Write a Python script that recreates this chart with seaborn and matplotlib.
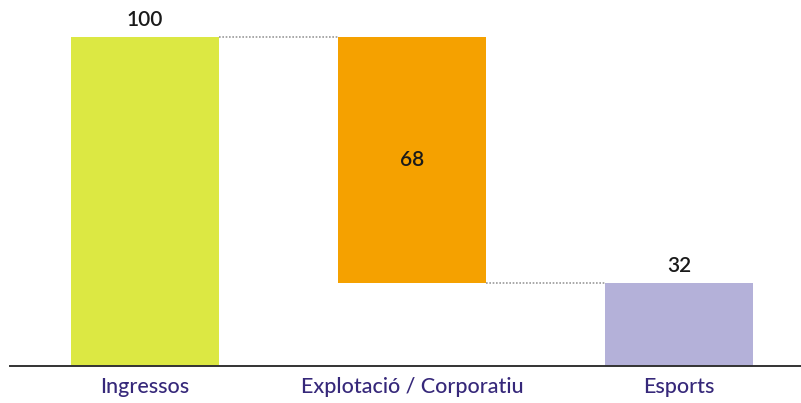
import matplotlib
matplotlib.use("Agg")
import matplotlib.pyplot as plt
import seaborn as sns

# Waterfall data
categories = ["Ingressos", "Explotació / Corporatiu", "Esports"]
values = [100, -68, 32]          # income, cost, result
labels = ["100", "68", "32"]
colors = ["#dce843", "#f5a100", "#b4b1d9"]

# bar bottoms / heights from the running total
bottoms = [0, values[0] + values[1], 0]
heights = [values[0], -values[1], values[2]]
levels = [values[0], values[0] + values[1]]

sns.set_style("white")
plt.rcParams["font.family"] = ["Lato", "DejaVu Sans"]

fig = plt.figure(figsize=(8.01, 4.03), dpi=100)
ax = fig.add_axes([0.0125, 0.0918, 0.9875, 0.9082])

bar_w = 0.554
sns.barplot(x=categories, y=heights, hue=categories, palette=colors,
            legend=False, width=bar_w, saturation=1, ax=ax)

# lift floating bars to their bottoms
for patch, b in zip(ax.patches, bottoms):
    patch.set_y(b)
    patch.set_linewidth(0)

# dotted connectors between bars
for i, lvl in enumerate(levels):
    ax.plot([i + bar_w / 2, i + 1 - bar_w / 2], [lvl, lvl],
            color="#9a9a9a", linestyle=(0, (1, 1)), linewidth=1.2)

# value labels
for i, (b, h, txt) in enumerate(zip(bottoms, heights, labels)):
    y = b + h / 2 if i == 1 else b + h + 4.6
    ax.text(i, y, txt, ha="center", va="center", fontsize=15,
            fontweight="semibold", color="#1a1a1a")

ax.set_xlim(-0.506, 2.457)
ax.set_ylim(9.06, 110.2)
ax.set_yticks([])
ax.set_xlabel("")
ax.set_ylabel("")
sns.despine(ax=ax, left=True)
ax.spines["bottom"].set_color("#333333")
ax.spines["bottom"].set_linewidth(1.4)
ax.tick_params(axis="x", length=0, pad=8, labelsize=15.5, labelcolor="#36287a")
for t in ax.get_xticklabels():
    t.set_fontweight("medium")

fig.savefig("out.png", dpi=100, facecolor="white")
